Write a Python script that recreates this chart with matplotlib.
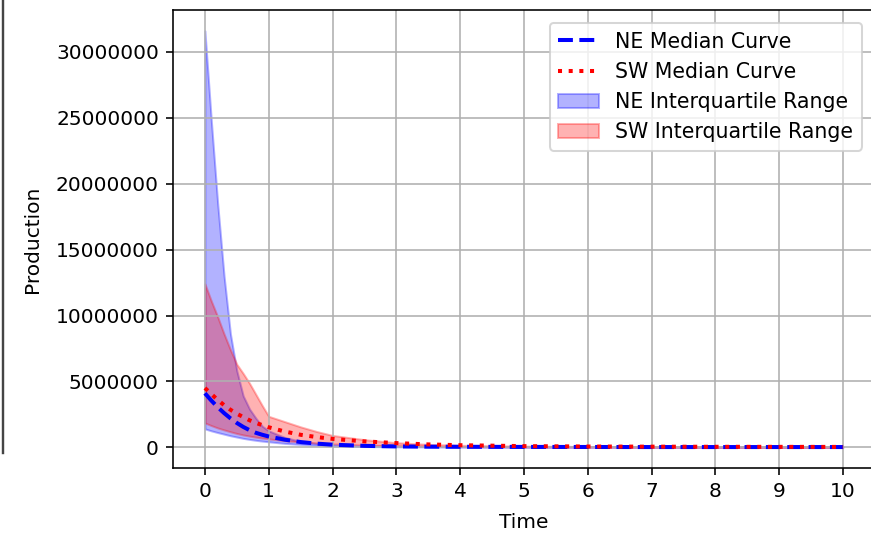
import numpy as np
import matplotlib
matplotlib.use("Agg")
from matplotlib import pyplot as plt
from matplotlib.lines import Line2D

# time axis and curves (values in millions)
time = [0, 0.1, 0.2, 0.3, 0.4, 0.5, 0.6, 0.7, 0.8, 0.9, 1.0,
        1.25, 1.5, 1.75, 2.0, 2.5, 3, 3.5, 4, 5, 6, 7, 8, 9, 10]

ne_median = [4.1, 3.55, 3.05, 2.6, 2.2, 1.85, 1.55, 1.3, 1.1, 0.95, 0.82,
             0.58, 0.4, 0.28, 0.2, 0.11, 0.07, 0.05, 0.04, 0.03, 0.025, 0.02, 0.02, 0.02, 0.02]
sw_median = [4.5, 4.05, 3.6, 3.2, 2.85, 2.55, 2.3, 2.05, 1.85, 1.68, 1.52,
             1.2, 0.95, 0.78, 0.64, 0.45, 0.32, 0.22, 0.16, 0.09, 0.06, 0.05, 0.04, 0.035, 0.03]

ne_q1 = [1.4, 1.25, 1.12, 1.0, 0.88, 0.78, 0.68, 0.6, 0.53, 0.47, 0.42,
         0.3, 0.22, 0.15, 0.1, 0.06, 0.04, 0.03, 0.02, 0.015, 0.01, 0.01, 0.01, 0.01, 0.01]
ne_q3 = [31.6, 24.8, 18.5, 13.0, 8.6, 5.8, 3.9, 2.9, 2.2, 1.6, 1.25,
         0.75, 0.45, 0.3, 0.2, 0.12, 0.08, 0.06, 0.05, 0.04, 0.03, 0.03, 0.03, 0.03, 0.03]
sw_q1 = [1.85, 1.65, 1.47, 1.32, 1.18, 1.05, 0.94, 0.85, 0.77, 0.7, 0.64,
         0.5, 0.4, 0.32, 0.26, 0.17, 0.11, 0.08, 0.06, 0.04, 0.03, 0.02, 0.02, 0.02, 0.02]
sw_q3 = [12.4, 11.1, 9.9, 8.6, 7.4, 6.3, 5.6, 4.85, 4.0, 3.15, 2.35,
         1.95, 1.55, 1.2, 0.9, 0.58, 0.35, 0.22, 0.15, 0.09, 0.06, 0.05, 0.04, 0.035, 0.03]

scale = 1e6

dpi = 145
fig = plt.figure(figsize=(871 / dpi, 534 / dpi), dpi=dpi)
ax = fig.add_axes([173 / 871, 66 / 534, 702 / 871, 458 / 534])

t = np.array(time)
ax.plot(t, np.array(ne_median) * scale, "b--", lw=2, label="NE Median Curve")
ax.plot(t, np.array(sw_median) * scale, "r:", lw=2, label="SW Median Curve")
ax.fill_between(t, np.array(ne_q1) * scale, np.array(ne_q3) * scale,
                color="blue", alpha=0.3, label="NE Interquartile Range")
ax.fill_between(t, np.array(sw_q1) * scale, np.array(sw_q3) * scale,
                color="red", alpha=0.3, label="SW Interquartile Range")

ax.set_xticks(range(0, 11))
ax.ticklabel_format(style="plain", axis="y")
ax.set_xlabel("Time", labelpad=6)
ax.set_ylabel("Production", labelpad=7)
ax.grid(True)
ax.legend(loc="upper right", fontsize=10.2, borderaxespad=0.65)

# leftover edge of a neighbouring figure in the screenshot
fig.add_artist(Line2D([3 / 871, 3 / 871], [1, 1 - 453 / 534],
                      transform=fig.transFigure, color="#444444", lw=1.2))

fig.savefig("out.png", dpi=dpi)
